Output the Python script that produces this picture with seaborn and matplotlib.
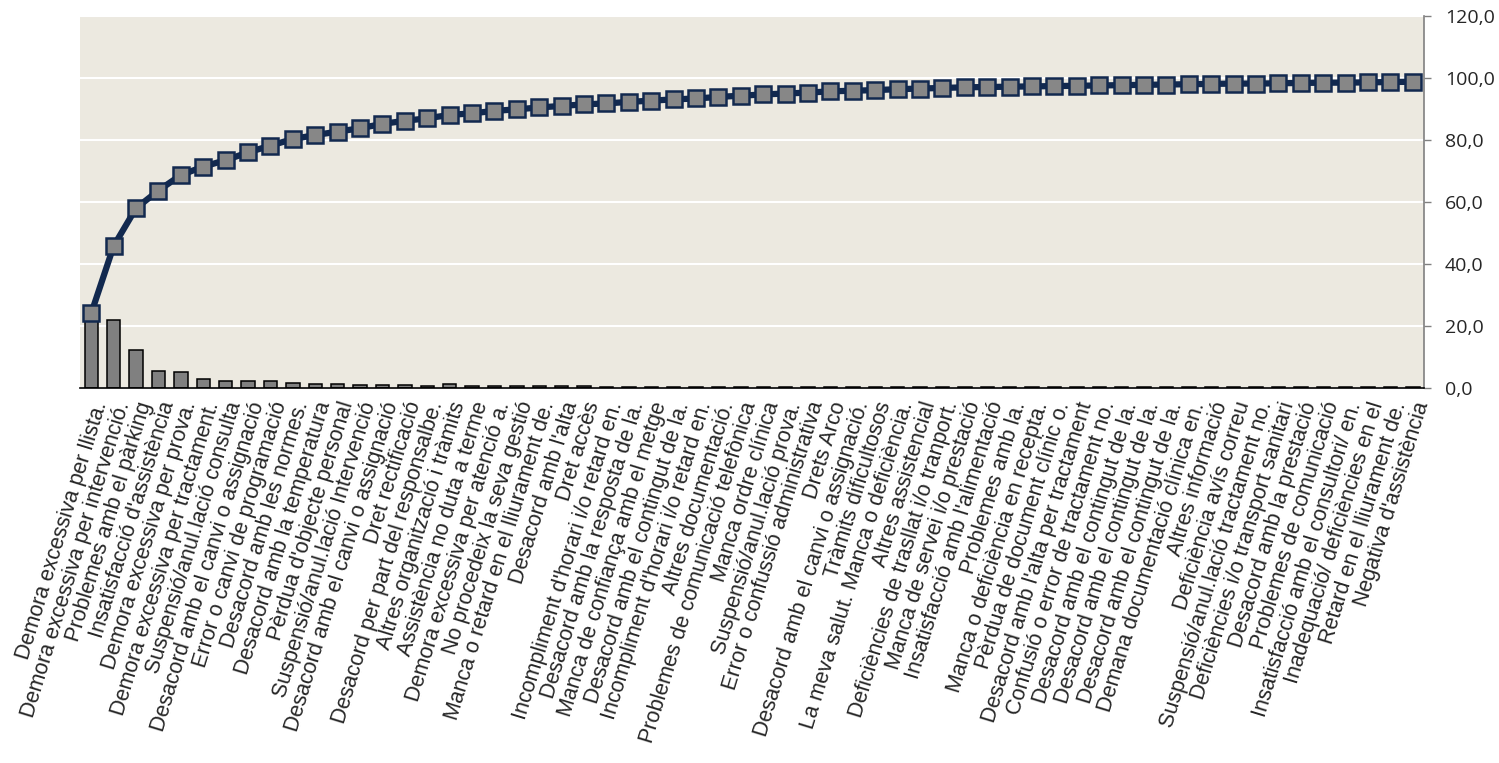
#Import libraries
import numpy as np
import pandas as pd
import matplotlib
matplotlib.use("Agg")
import matplotlib.pyplot as plt
import matplotlib.ticker as mticker
import seaborn as sns

#Data
CATEGORIES = [
    "Demora excessiva per llista.", "Demora excessiva per intervenció.", "Problemes amb el pàrking",
    "Insatisfacció d'assistència", "Demora excessiva per prova.", "Demora excessiva per tractament.",
    "Suspensió/anul.lació consulta", "Desacord amb el canvi o assignació", "Error o canvi de programació",
    "Desacord amb les normes.", "Desacord amb la temperatura", "Pèrdua d'objecte personal",
    "Suspensió/anul.lació Intervenció", "Desacord amb el canvi o assignació", "Dret rectificació",
    "Desacord per part del responsalbe.", "Altres organització i tràmits", "Assistència no duta a terme",
    "Demora excessiva per atenció a.", "No procedeix la seva gestió", "Manca o retard en el lliurament de.",
    "Desacord amb l'alta", "Dret accès", "Incompliment d'horari i/o retard en.",
    "Desacord amb la resposta de la.", "Manca de confiança amb el metge", "Desacord amb el contingut de la.",
    "Incompliment d'horari i/o retard en.", "Altres documentació.", "Problemes de comunicació telefònica",
    "Manca ordre clínica", "Suspensió/anul.lació prova.", "Error o confussió administrativa",
    "Drets Arco", "Desacord amb el canvi o assignació.", "Tràmits dificultosos",
    "La meva salut. Manca o deficiència.", "Altres assistencial", "Deficiències de trasllat i/o tranport.",
    "Manca de servei i/o prestació", "Insatisfacció amb l'alimentació", "Problemes amb la.",
    "Manca o deficiència en recepta.", "Pèrdua de document clínic o.", "Desacord amb l'alta per tractament",
    "Confusió o error de tractament no.", "Desacord amb el contingut de la.", "Desacord amb el contingut de la.",
    "Desacord amb el contingut de la.", "Demana documentació clínica en.", "Altres informació",
    "Deficiència avís correu", "Suspensió/anul.lació tractament no.", "Deficiències i/o transport sanitari",
    "Desacord amb la prestació", "Problemes de comunicació", "Insatisfacció amb el consultori/ en.",
    "Inadequació/ deficiències en el", "Retard en el lliurament de.", "Negativa d'assistència",
]

PERCENTS = [24.1, 21.8, 12.1, 5.6, 5.0, 2.9, 2.2, 2.3, 2.3, 1.7,
            1.2, 1.2, 1.0, 1.0, 0.9, 0.6, 1.3, 0.6, 0.5, 0.5,
            0.5, 0.5, 0.5, 0.4, 0.4, 0.4, 0.4, 0.4, 0.4, 0.4,
            0.4, 0.4, 0.4, 0.4, 0.4, 0.4, 0.4, 0.4, 0.4, 0.4,
            0.4, 0.3, 0.3, 0.3, 0.3, 0.3, 0.3, 0.3, 0.3, 0.3,
            0.3, 0.3, 0.3, 0.3, 0.3, 0.3, 0.3, 0.3, 0.3, 0.3]

CUMULATIVE = [24.1, 45.8, 58.0, 63.7, 68.7, 71.4, 73.5, 76.0, 78.2, 80.3,
              81.6, 82.7, 83.8, 85.2, 86.2, 87.0, 88.1, 88.6, 89.4, 89.9,
              90.5, 91.0, 91.5, 91.8, 92.3, 92.7, 93.1, 93.4, 93.9, 94.3,
              94.7, 95.0, 95.3, 95.7, 95.9, 96.1, 96.4, 96.6, 96.8, 97.0,
              97.1, 97.2, 97.3, 97.4, 97.5, 97.6, 97.7, 97.8, 97.9, 98.0,
              98.1, 98.2, 98.2, 98.3, 98.4, 98.5, 98.5, 98.6, 98.7, 98.8]

Y_TICKS = [0, 20, 40, 60, 80, 100, 120]

def paretoChart(outputFileName):
    df = pd.DataFrame({"pos": np.arange(len(CATEGORIES)), "pct": PERCENTS, "cum": CUMULATIVE})

    sns.set_style("white")
    plt.rcParams['font.family'] = ['Liberation Sans', 'DejaVu Sans']

    fig = plt.figure(figsize=(14.99, 7.63), dpi=100)
    ax = fig.add_axes([0.0534, 0.4915, 0.8966, 0.4875])
    ax.set_facecolor('#ECE9E0')

    # Bars (individual share) and cumulative line on the same percent scale
    sns.barplot(data=df, x="pos", y="pct", native_scale=True, color="#808080", saturation=1,
                edgecolor="black", linewidth=1.1, width=0.6, ax=ax, zorder=2)
    sns.lineplot(data=df, x="pos", y="cum", color="#12294F", linewidth=4.5, marker="s",
                 markersize=12, markerfacecolor="#878787", markeredgecolor="#12294F",
                 markeredgewidth=1.8, ax=ax, zorder=3)

    ax.set_xlim(-0.5, len(CATEGORIES) - 0.5)
    ax.set_ylim(0, 120)

    # Grid
    ax.set_yticks(Y_TICKS)
    ax.yaxis.grid(True, color="white", linewidth=1.5)
    ax.set_axisbelow(True)

    # Right-hand y axis with comma decimals
    ax.yaxis.tick_right()
    ax.yaxis.set_major_formatter(mticker.FuncFormatter(lambda v, p: f"{v:.1f}".replace(".", ",")))
    ax.tick_params(axis="y", which="major", direction="out", length=5, width=1, color="#808080",
                   pad=10, labelsize=14)
    for lbl in ax.get_yticklabels():
        lbl.set_fontfamily(["Open Sans", "DejaVu Sans"])

    # Category labels and separator ticks
    ax.set_xticks(df["pos"])
    ax.set_xticklabels(CATEGORIES, rotation=73, ha="right", rotation_mode="anchor", fontsize=15.5)
    ax.set_xticks(np.arange(-0.5, len(CATEGORIES), 1), minor=True)
    ax.tick_params(axis="x", which="major", length=0, pad=8)
    ax.tick_params(axis="x", which="minor", direction="inout", length=9, width=1, color="black")

    for side in ["top", "left"]:
        ax.spines[side].set_visible(False)
    ax.spines["bottom"].set_color("black")
    ax.spines["bottom"].set_linewidth(1.2)
    ax.spines["right"].set_color("#808080")
    ax.spines["right"].set_linewidth(1.2)

    ax.set_xlabel("")
    ax.set_ylabel("")

    plt.savefig(outputFileName, dpi=100, format="png")
    plt.close()
    print(f"Figure saved to {outputFileName}")

#Execute
paretoChart("out.png")
